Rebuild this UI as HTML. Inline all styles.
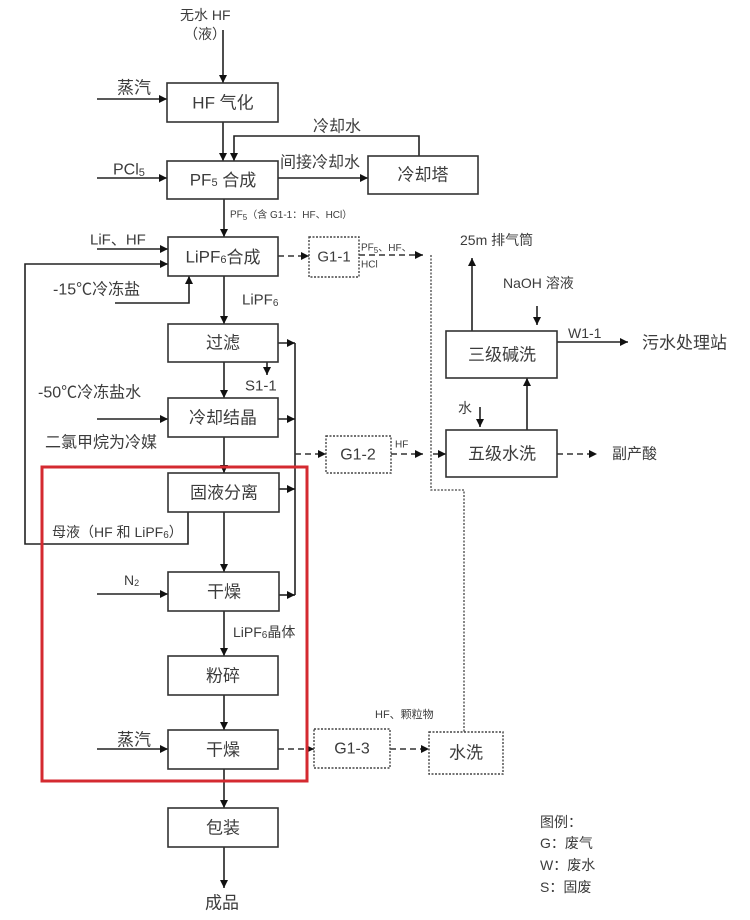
<!DOCTYPE html>
<html><head><meta charset="utf-8"><style>
html,body{margin:0;padding:0;background:#fff;}
svg{display:block;}
text{font-family:"Liberation Sans","Noto Sans CJK SC",sans-serif;fill:#3c3c3c;dominant-baseline:central;}
.b{font-size:17px;text-anchor:middle;}
.l{font-size:16px;}
.s{font-size:14px;}
.xs{font-size:10px;}
.ln{stroke:#222;stroke-width:1.6;fill:none;}
.dl{stroke:#333;stroke-width:1.6;fill:none;stroke-dasharray:6,4;}
.dt{stroke:#444;stroke-width:1.3;fill:none;stroke-dasharray:2,1.5;}
.bx{stroke:#333;stroke-width:1.6;fill:#fff;}
.db{stroke:#444;stroke-width:1.4;fill:#fff;stroke-dasharray:2,1.5;}
</style></head><body>
<svg width="750" height="920" viewBox="0 0 750 920" xmlns="http://www.w3.org/2000/svg">
<defs>
<marker id="a" markerWidth="9" markerHeight="8" refX="8" refY="4" orient="auto" markerUnits="userSpaceOnUse">
<path d="M0,0 L8,4 L0,8 z" fill="#111"/></marker>
</defs>

<!-- lines -->
<path class="ln" d="M223,30 V83" marker-end="url(#a)"/>
<path class="ln" d="M97,99 H167" marker-end="url(#a)"/>
<path class="ln" d="M223,122 V161" marker-end="url(#a)"/>
<path class="ln" d="M419,156 V136 H234 V161" marker-end="url(#a)"/>
<path class="ln" d="M97,178 H167" marker-end="url(#a)"/>
<path class="ln" d="M278,178 H368" marker-end="url(#a)"/>
<path class="ln" d="M224,199 V237" marker-end="url(#a)"/>
<path class="ln" d="M97,249 H168" marker-end="url(#a)"/>
<path class="ln" d="M188,512 V544 H25 V264 H168" marker-end="url(#a)"/>
<path class="ln" d="M115,303 H189 V276" marker-end="url(#a)"/>
<path class="ln" d="M224,276 V324" marker-end="url(#a)"/>
<path class="ln" d="M224,362 V398" marker-end="url(#a)"/>
<path class="ln" d="M267,362 V375" marker-end="url(#a)"/>
<path class="ln" d="M97,419 H168" marker-end="url(#a)"/>
<path class="ln" d="M224,437 V473" marker-end="url(#a)"/>
<path class="ln" d="M224,512 V572" marker-end="url(#a)"/>
<path class="ln" d="M97,594 H168" marker-end="url(#a)"/>
<path class="ln" d="M224,611 V656" marker-end="url(#a)"/>
<path class="ln" d="M224,695 V730" marker-end="url(#a)"/>
<path class="ln" d="M97,749 H168" marker-end="url(#a)"/>
<path class="ln" d="M224,769 V808" marker-end="url(#a)"/>
<path class="ln" d="M224,847 V888" marker-end="url(#a)"/>
<!-- right collector -->
<path class="ln" d="M295,343 V595"/>
<path class="ln" d="M278,343 H295" marker-end="url(#a)"/>
<path class="ln" d="M278,419 H295" marker-end="url(#a)"/>
<path class="ln" d="M279,489 H295" marker-end="url(#a)"/>
<path class="ln" d="M279,595 H295" marker-end="url(#a)"/>
<path class="dl" d="M295,454 H326" marker-end="url(#a)"/>
<!-- gas lines -->
<path class="dl" d="M278,256 H309" marker-end="url(#a)"/>
<path class="dl" d="M359,255 H423" marker-end="url(#a)"/>
<path class="dt" d="M431,255 V490 H464 V732"/>
<path class="dl" d="M391,454 H423" marker-end="url(#a)"/>
<path class="dl" d="M433,454 H446" marker-end="url(#a)"/>
<path class="ln" d="M472,331 V258" marker-end="url(#a)"/>
<path class="ln" d="M537,306 V325" marker-end="url(#a)"/>
<path class="ln" d="M557,342 H628" marker-end="url(#a)"/>
<path class="ln" d="M527,430 V378" marker-end="url(#a)"/>
<path class="ln" d="M480,407 V427" marker-end="url(#a)"/>
<path class="dl" d="M557,454 H597" marker-end="url(#a)"/>
<path class="dl" d="M278,749 H314" marker-end="url(#a)"/>
<path class="dl" d="M390,749 H429" marker-end="url(#a)"/>

<!-- boxes -->
<rect class="bx" x="167" y="83" width="111" height="39"/>
<rect class="bx" x="167" y="161" width="111" height="38"/>
<rect class="bx" x="368" y="156" width="110" height="38"/>
<rect class="bx" x="168" y="237" width="110" height="39"/>
<rect class="bx" x="168" y="324" width="110" height="38"/>
<rect class="bx" x="168" y="398" width="110" height="39"/>
<rect class="bx" x="168" y="473" width="111" height="39"/>
<rect class="bx" x="168" y="572" width="111" height="39"/>
<rect class="bx" x="168" y="656" width="110" height="39"/>
<rect class="bx" x="168" y="730" width="110" height="39"/>
<rect class="bx" x="168" y="808" width="110" height="39"/>
<rect class="bx" x="446" y="331" width="111" height="47"/>
<rect class="bx" x="446" y="430" width="111" height="47"/>
<rect class="db" x="309" y="237" width="50" height="40"/>
<rect class="db" x="326" y="436" width="65" height="37"/>
<rect class="db" x="314" y="729" width="76" height="39"/>
<rect class="db" x="429" y="732" width="74" height="42"/>

<!-- red highlight -->
<rect x="42" y="467" width="265" height="314" fill="none" stroke="#d42a30" stroke-width="3"/>

<!-- box labels -->
<text class="b" x="223" y="103">HF 气化</text>
<text class="b" x="223" y="180">PF<tspan font-size="11" dy="3">5</tspan><tspan dy="-3"> 合成</tspan></text>
<text class="b" x="423" y="175">冷却塔</text>
<text class="b" x="223" y="257">LiPF<tspan font-size="11" dy="3">6</tspan><tspan dy="-3">合成</tspan></text>
<text class="b" x="223" y="343">过滤</text>
<text class="b" x="223" y="418">冷却结晶</text>
<text class="b" x="224" y="493">固液分离</text>
<text class="b" x="224" y="592">干燥</text>
<text class="b" x="223" y="676">粉碎</text>
<text class="b" x="223" y="750">干燥</text>
<text class="b" x="223" y="828">包装</text>
<text class="b" x="502" y="355">三级碱洗</text>
<text class="b" x="502" y="454">五级水洗</text>
<text class="b" x="334" y="257" style="font-size:15px">G1-1</text>
<text class="b" x="358" y="455" style="font-size:16px">G1-2</text>
<text class="b" x="352" y="749" style="font-size:16px">G1-3</text>
<text class="b" x="466" y="753">水洗</text>

<!-- labels -->
<text class="s" x="180" y="15">无水 HF</text>
<text class="s" x="184" y="34">（液）</text>
<text class="l" x="117" y="88" style="font-size:17px">蒸汽</text>
<text class="l" x="313" y="127">冷却水</text>
<text class="l" x="113" y="170">PCl<tspan font-size="11" dy="3">5</tspan></text>
<text class="l" x="280" y="163">间接冷却水</text>
<text class="xs" x="230" y="215">PF<tspan font-size="8" dy="2">5</tspan><tspan dy="-2">（含 G1-1：HF、HCl）</tspan></text>
<text class="s" x="90" y="240" style="font-size:15px">LiF、HF</text>
<text class="l" x="53" y="290">-15℃冷冻盐</text>
<text class="s" x="242" y="300" style="font-size:15px">LiPF<tspan font-size="10" dy="3">6</tspan></text>
<text class="s" x="245" y="386" style="font-size:15px">S1-1</text>
<text class="l" x="38" y="393">-50℃冷冻盐水</text>
<text class="l" x="45" y="443">二氯甲烷为冷媒</text>
<text class="s" x="52" y="532">母液（HF 和 LiPF<tspan font-size="10" dy="3">6</tspan><tspan dy="-3">）</tspan></text>
<text class="s" x="124" y="580">N<tspan font-size="9" dy="3">2</tspan></text>
<text class="s" x="233" y="632">LiPF<tspan font-size="10" dy="3">6</tspan><tspan dy="-3">晶体</tspan></text>
<text class="l" x="117" y="740" style="font-size:17px">蒸汽</text>
<text class="l" x="205" y="903" style="font-size:17px">成品</text>
<text class="xs" x="375" y="715" style="font-size:11px">HF、颗粒物</text>
<text class="xs" x="361" y="248">PF<tspan font-size="8" dy="2">5</tspan><tspan dy="-2">、HF、</tspan></text>
<text class="xs" x="361" y="265">HCl</text>
<text class="xs" x="395" y="445">HF</text>
<text class="s" x="460" y="240">25m 排气筒</text>
<text class="s" x="503" y="283">NaOH 溶液</text>
<text class="s" x="568" y="333">W1-1</text>
<text class="l" x="642" y="343" style="font-size:17px">污水处理站</text>
<text class="s" x="458" y="408">水</text>
<text class="s" x="612" y="454" style="font-size:15px">副产酸</text>
<text class="s" x="540" y="822">图例：</text>
<text class="s" x="540" y="843">G：废气</text>
<text class="s" x="540" y="865">W：废水</text>
<text class="s" x="540" y="887">S：固废</text>
</svg>
</body></html>
